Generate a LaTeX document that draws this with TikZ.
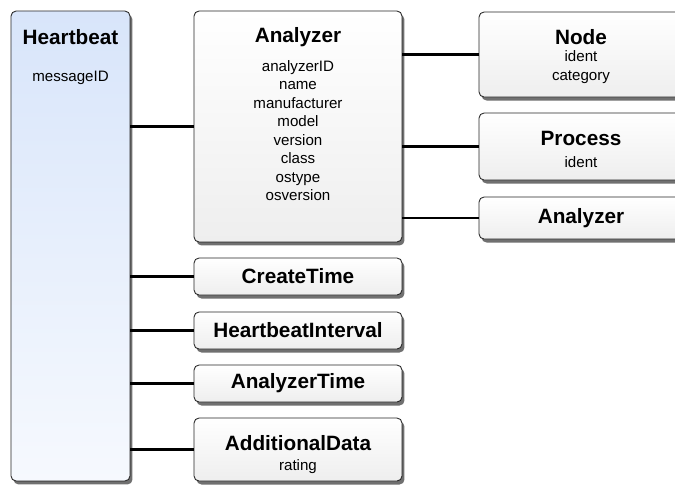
\documentclass[tikz,border=0pt]{standalone}
\usepackage{fontspec}
\setmainfont{Liberation Sans}
\usepackage{tikz}
\usetikzlibrary{positioning,calc,shadows}

\definecolor{hbtop}{HTML}{D8E5FA}
\definecolor{hbbottom}{HTML}{F6F9FE}
\definecolor{boxbottom}{HTML}{EEEEEE}

\begin{document}
\begin{tikzpicture}[
            x=0.02cm, y=-0.02cm,
            entity/.style={rectangle,draw=black!85,line width=0.5pt,rounded corners=0.1cm,inner sep=0pt,
                top color=white,bottom color=boxbottom,
                drop shadow={shadow xshift=0.05cm,shadow yshift=-0.07cm,opacity=0.7,fill=black!80}},
            root/.style={entity,top color=hbtop,bottom color=hbbottom},
            title/.style={font=\fontsize{11.8}{13}\selectfont\bfseries,inner sep=0pt},
            attr/.style={font=\fontsize{8.6}{10.5}\selectfont,inner sep=0pt,align=center},
            every edge/.style={draw,line width=1.2pt},
        ]
            \useasboundingbox (0,0) rectangle (675,485);
            % boxes
            \node[root, minimum width=2.38cm, minimum height=9.4cm] (heartbeat) at (70.5,246) {};
            \node[entity, minimum width=4.16cm, minimum height=4.62cm] (analyzer) at (298,126.5) {};
            \node[entity, minimum width=4.08cm, minimum height=1.7cm] (node) at (581,54.5) {};
            \node[entity, minimum width=4.08cm, minimum height=1.34cm] (process) at (581,146.5) {};
            \node[entity, minimum width=4.08cm, minimum height=0.84cm] (analyzer_sub) at (581,218) {};
            \node[entity, minimum width=4.16cm, minimum height=0.74cm] (create_time) at (298,276.5) {};
            \node[entity, minimum width=4.16cm, minimum height=0.74cm] (hb_interval) at (298,330.5) {};
            \node[entity, minimum width=4.16cm, minimum height=0.74cm] (analyzer_time) at (298,383.5) {};
            \node[entity, minimum width=4.16cm, minimum height=1.26cm] (add_data) at (298,449.5) {};

            % texts
            \node[title] (heartbeat_t) at (70.5,37) {Heartbeat};
            \node[attr] (heartbeat_a) at (70.5,78) {messageID};
            \node[title] (analyzer_t) at (298,37) {Analyzer};
            \node[attr] (analyzer_a) at (298,130.5) {analyzerID\\name\\manufacturer\\model\\version\\class\\ostype\\osversion};
            \node[title] (node_t) at (581,37) {Node};
            \node[attr] (node_a) at (581,67) {ident\\category};
            \node[title] (process_t) at (581,138) {Process};
            \node[attr] (process_a) at (581,162) {ident};
            \node[title] (analyzer_sub_t) at (581,218) {Analyzer};
            \node[title] (create_time_t) at (298,276.5) {CreateTime};
            \node[title] (hb_interval_t) at (298,330.5) {HeartbeatInterval};
            \node[title] (analyzer_time_t) at (298,383.5) {AnalyzerTime};
            \node[title] (add_data_t) at (298,443) {AdditionalData};
            \node[attr] (add_data_a) at (298,467) {rating};

            % links
            \path (heartbeat.east |- analyzer.west) edge (analyzer.west);
            \path (heartbeat.east |- create_time.west) edge (create_time.west);
            \path (heartbeat.east |- hb_interval.west) edge (hb_interval.west);
            \path (heartbeat.east |- analyzer_time.west) edge (analyzer_time.west);
            \path (heartbeat.east |- add_data.west) edge (add_data.west);
            \path (analyzer.east |- node.west) edge (node.west);
            \path (analyzer.east |- process.west) edge (process.west);
            \path (analyzer.east |- analyzer_sub.west) edge (analyzer_sub.west);
        \end{tikzpicture}
\end{document}
